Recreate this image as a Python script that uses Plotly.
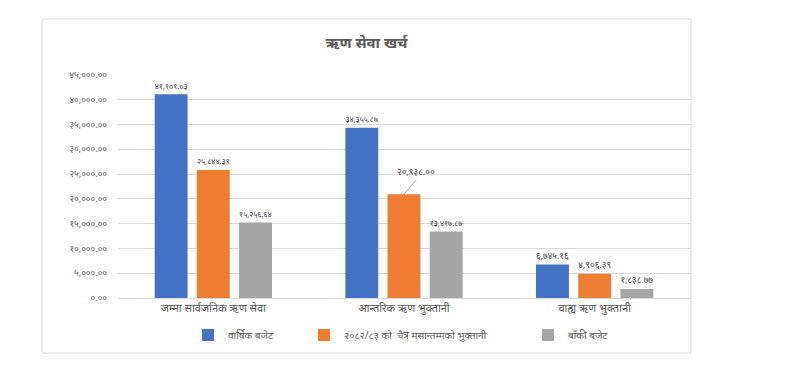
import plotly.graph_objects as go

categories = ["जम्मा सार्वजनिक ऋण सेवा", "आन्तरिक ऋण भुक्तानी", "वाह्य ऋण भुक्तानी"]
series_names = ["वार्षिक बजेट", "२०८२/८३ को  चैत्र मसान्तम्मको भुक्तानी", "बाँकी बजेट"]
annual_budget = [41101.03, 34355.87, 6745.16]
paid_till_chaitra = [25844.39, 20938.00, 4906.39]
remaining_budget = [15256.64, 13417.87, 1838.77]
y_ticks = [0, 5000, 10000, 15000, 20000, 25000, 30000, 35000, 40000, 45000]
title_text = "ऋण सेवा खर्च"

colors = ["#4472C4", "#ED7D31", "#A5A5A5"]
DEV = str.maketrans("0123456789", "०१२३४५६७८९")


def dev(v):
    return f"{v:,.2f}".translate(DEV)


FONT = "Noto Sans, DejaVu Sans, sans-serif"
fig = go.Figure()
all_series = [annual_budget, paid_till_chaitra, remaining_budget]
for i, (name, vals) in enumerate(zip(series_names, all_series)):
    texts = [dev(v) for v in vals]
    if i == 1:
        texts[1] = ""
    fig.add_trace(go.Bar(
        x=categories, y=vals, name=name,
        marker=dict(color=colors[i], line=dict(width=0)),
        text=texts, textposition="outside", cliponaxis=False,
        textfont=dict(size=9, color="#404040", family=FONT),
        legend="legend" if i == 0 else f"legend{i+1}",
        showlegend=True,
    ))

# leader-line label for the offset data label
fig.add_annotation(
    x=categories[1], y=paid_till_chaitra[1], text=dev(paid_till_chaitra[1]),
    showarrow=True, arrowhead=0, arrowwidth=1, arrowcolor="#A6A6A6",
    ax=12, ay=-14, font=dict(size=9, color="#404040", family=FONT),
    yanchor="bottom",
)

# chart border
fig.add_shape(type="rect", xref="paper", yref="paper",
              x0=-0.1329, x1=1.0017, y0=-0.2466, y1=1.2511,
              line=dict(color="#D9D9D9", width=1), fillcolor="rgba(0,0,0,0)")

legend_common = dict(orientation="h", yanchor="middle", y=-0.166, xanchor="left",
                     font=dict(size=10, color="#595959", family=FONT),
                     bgcolor="rgba(0,0,0,0)", itemwidth=30, visible=True)
leg_px = [188, 304, 528]
fig.update_layout(
    width=781, height=363, showlegend=True,
    margin=dict(l=110, r=99, t=67, b=73),
    paper_bgcolor="white", plot_bgcolor="white",
    barmode="group", bargap=0.336, bargroupgap=0.22,
    title=dict(text=f"<b>{title_text}</b>", x=358.5 / 781, xanchor="center",
               y=1 - 35 / 363, yanchor="middle",
               font=dict(size=15, color="#595959", family=FONT)),
    xaxis=dict(showgrid=False, showline=True, linecolor="#D9D9D9",
               tickfont=dict(size=11, color="#595959", family=FONT),
               ticks="", ticklen=0),
    yaxis=dict(range=[0, 45000], tickvals=y_ticks,
               ticktext=[dev(v) for v in y_ticks],
               showgrid=True, gridcolor="#D9D9D9", gridwidth=1,
               zeroline=False, showline=False,
               tickfont=dict(size=9, color="#595959", family=FONT),
               ticks="", ticklabelstandoff=10),
    legend=dict(legend_common, x=(leg_px[0] - 118) / 572),
    legend2=dict(legend_common, x=(leg_px[1] - 118) / 572),
    legend3=dict(legend_common, x=(leg_px[2] - 118) / 572),
)

fig.write_html("out.html")
